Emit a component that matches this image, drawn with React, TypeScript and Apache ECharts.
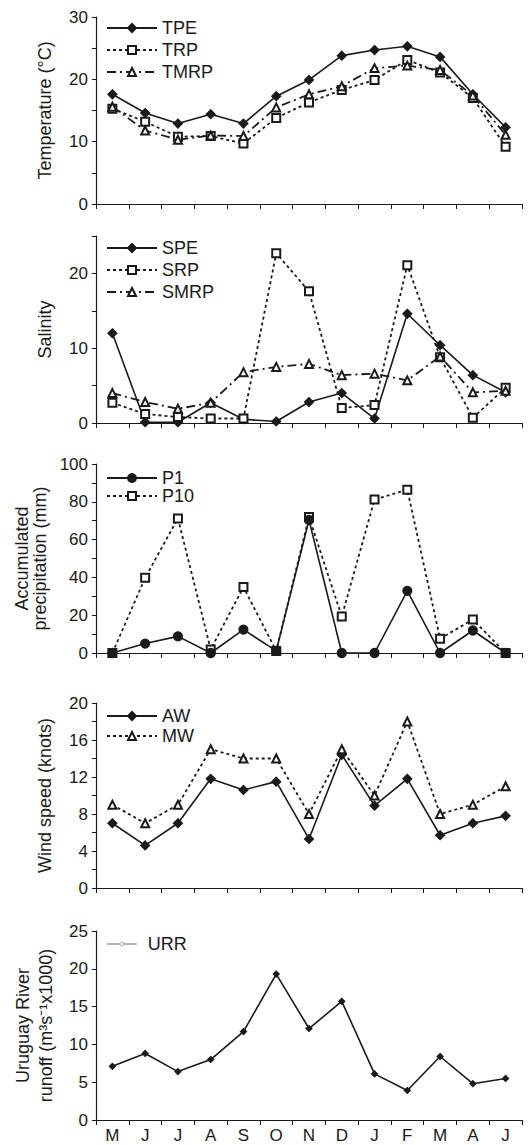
import React, { useEffect, useRef } from 'react';
import * as echarts from 'echarts';

const months = ['M', 'J', 'J', 'A', 'S', 'O', 'N', 'D', 'J', 'F', 'M', 'A', 'J'];

// temperature (°C)
const tpe = [17.6, 14.6, 12.9, 14.4, 12.9, 17.3, 19.9, 23.8, 24.7, 25.3, 23.6, 17.6, 12.3];
const trp = [15.3, 13.2, 10.8, 10.9, 9.7, 13.8, 16.3, 18.3, 19.9, 23.1, 21.1, 17.0, 9.2];
const tmrp = [15.6, 11.8, 10.3, 11.0, 10.9, 15.5, 17.6, 18.9, 21.8, 22.2, 21.5, 17.4, 11.1];

// salinity
const spe = [12.0, 0.1, 0.1, 2.7, 0.5, 0.2, 2.8, 4.0, 0.6, 14.6, 10.4, 6.4, 4.1];
const srp = [2.7, 1.2, 0.8, 0.6, 0.6, 22.7, 17.6, 2.0, 2.4, 21.1, 8.8, 0.7, 4.7];
const smrp = [4.0, 2.8, 1.9, 2.7, 6.8, 7.5, 7.9, 6.4, 6.6, 5.7, 8.9, 4.1, 4.3];

// accumulated precipitation (mm)
const p1 = [0, 5.0, 8.8, 0, 12.4, 1.1, 70.4, 0, 0, 32.9, 0, 11.9, 0];
const p10 = [0, 39.8, 71.2, 1.9, 34.9, 1.1, 72, 19.3, 81.2, 86.4, 7.6, 17.7, 0];

// wind speed (knots)
const aw = [7.0, 4.6, 7.0, 11.8, 10.6, 11.5, 5.3, 14.4, 8.9, 11.8, 5.7, 7.0, 7.8];
const mw = [9, 7, 9, 15, 14, 14, 8, 15, 10, 18, 8, 9, 11];

// Uruguay River runoff
const urr = [7.1, 8.8, 6.4, 8.0, 11.7, 19.3, 12.1, 15.7, 6.1, 3.9, 8.4, 4.8, 5.5];

const FONT = 'Liberation Sans, Arial, sans-serif';
const INK = '#1a1a1a';

const panels = [
  { top: 17, height: 187, name: 'Temperature (°C)', max: 30, step: 5, every: 10, nameGap: 42, lh: 19 },
  { top: 236, height: 187, name: 'Salinity', max: 25, step: 5, every: 10, nameGap: 42, lh: 19 },
  { top: 464, height: 189, name: 'Accumulated\nprecipitation (mm)', max: 100, step: 10, every: 20, nameGap: 38, lh: 18 },
  { top: 703, height: 185, name: 'Wind speed (knots)', max: 20, step: 2, every: 4, nameGap: 42, lh: 19 },
  { top: 931, height: 189, name: 'Uruguay River\nrunoff (m³s⁻¹x1000)', max: 25, step: 5, every: 5, nameGap: 39, lh: 23 },
];

const App: React.FC = () => {
  const chartRef = useRef<HTMLDivElement>(null);

  useEffect(() => {
    if (!chartRef.current) return;
    const chart = echarts.init(chartRef.current, undefined, { renderer: 'svg' });

    const grid = panels.map((p) => ({ left: 96, width: 426, top: p.top, height: p.height }));

    const xAxis = panels.map((p, i) => ({
      type: 'category' as const,
      gridIndex: i,
      data: months,
      boundaryGap: true,
      axisLine: { lineStyle: { color: INK, width: 1.2 } },
      axisTick: { show: true, length: 5, lineStyle: { color: INK } },
      axisLabel: {
        show: i === panels.length - 1,
        color: INK,
        fontFamily: FONT,
        fontSize: 17,
        margin: 7,
      },
    }));

    const yAxis = panels.map((p, i) => ({
      type: 'value' as const,
      gridIndex: i,
      min: 0,
      max: p.max,
      interval: p.step,
      name: p.name,
      nameLocation: 'middle' as const,
      nameGap: p.nameGap,
      nameTextStyle: { color: INK, fontFamily: FONT, fontSize: 18, lineHeight: p.lh },
      axisLine: { show: true, lineStyle: { color: INK, width: 1.2 } },
      axisTick: { show: true, length: 4, lineStyle: { color: INK } },
      splitLine: { show: false },
      axisLabel: {
        color: INK,
        fontFamily: FONT,
        fontSize: 17,
        margin: 8,
        formatter: (v: number) => (v % p.every === 0 ? String(v) : ''),
      },
    }));

    const solid = { color: INK, width: 1.6, type: 'solid' as const };
    const dotted = { color: INK, width: 1.8, type: [3, 3] };
    const dashDot = { color: INK, width: 1.8, type: [9, 4, 2, 4] };

    const line = (name: string, data: number[], idx: number, symbol: string, size: number, lineStyle: any) => ({
      name,
      type: 'line' as const,
      xAxisIndex: idx,
      yAxisIndex: idx,
      data,
      symbol,
      symbolSize: size,
      showAllSymbol: true,
      lineStyle,
      itemStyle: { color: INK, borderColor: INK, borderWidth: 1.2 },
    });

    const series = [
      line('TPE', tpe, 0, 'diamond', 9, solid),
      line('TRP', trp, 0, 'emptyRect', 8, dotted),
      line('TMRP', tmrp, 0, 'emptyTriangle', 8, dashDot),
      line('SPE', spe, 1, 'diamond', 9, solid),
      line('SRP', srp, 1, 'emptyRect', 8, dotted),
      line('SMRP', smrp, 1, 'emptyTriangle', 8, dashDot),
      line('P10', p10, 2, 'emptyRect', 8, dotted),
      line('P1', p1, 2, 'circle', 9, solid),
      line('AW', aw, 3, 'diamond', 9, solid),
      line('MW', mw, 3, 'emptyTriangle', 8, dotted),
      line('URR', urr, 4, 'diamond', 6, solid),
    ];

    const legendBase = {
      orient: 'vertical' as const,
      left: 101,
      itemWidth: 50,
      itemHeight: 10,
      textStyle: { color: INK, fontFamily: FONT, fontSize: 18, lineHeight: 18 },
      inactiveColor: INK,
      selectedMode: false,
    };

    const legend = [
      { ...legendBase, top: 14, itemGap: 4, data: ['TPE', 'TRP', 'TMRP'] },
      { ...legendBase, top: 234, itemGap: 4, data: ['SPE', 'SRP', 'SMRP'] },
      { ...legendBase, top: 464, itemGap: 0, data: ['P1', 'P10'] },
      {
        ...legendBase,
        top: 702,
        itemGap: 2,
        data: ['AW', 'MW'],
        textStyle: { ...legendBase.textStyle, lineHeight: 14 },
      },
      {
        ...legendBase,
        top: 930,
        itemWidth: 30,
        itemHeight: 6,
        data: [
          {
            name: 'URR',
            itemStyle: { color: '#ffffff', borderColor: '#999999', borderWidth: 1 },
            lineStyle: { color: '#999999', width: 1.5 },
          },
        ],
        textStyle: { ...legendBase.textStyle, padding: [0, 0, 0, 6] },
      },
    ];

    chart.setOption({
      animation: false,
      backgroundColor: '#ffffff',
      textStyle: { fontFamily: FONT },
      grid,
      xAxis,
      yAxis,
      legend,
      series,
    });

    const handleResize = () => chart.resize();
    window.addEventListener('resize', handleResize);
    return () => {
      window.removeEventListener('resize', handleResize);
      chart.dispose();
    };
  }, []);

  return (
    <div
      ref={chartRef}
      style={{ position: 'fixed', left: 0, top: 0, width: 531, height: 1145, background: '#fff' }}
    />
  );
};

export default App;
